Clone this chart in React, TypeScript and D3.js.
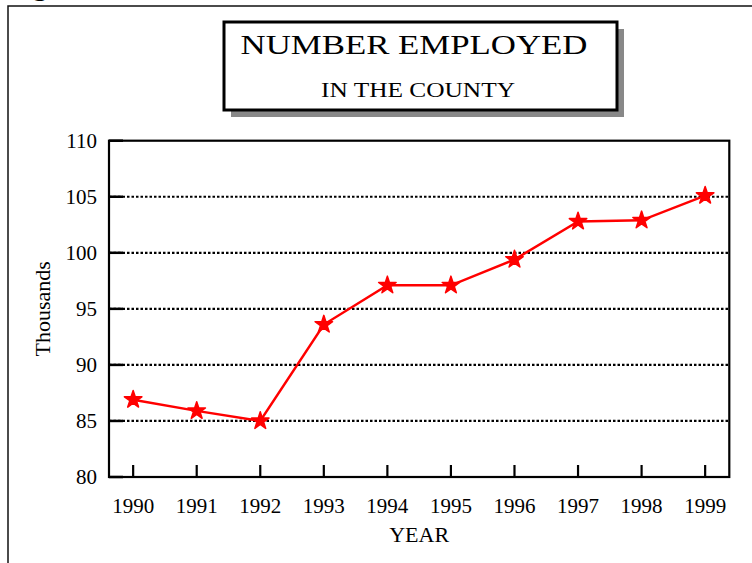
import React, { useEffect, useRef } from 'react';
import * as d3 from 'd3';

const years = ['1990', '1991', '1992', '1993', '1994', '1995', '1996', '1997', '1998', '1999'];
const employed = [86.9, 85.9, 85.0, 93.6, 97.1, 97.1, 99.4, 102.8, 102.9, 105.1];
const yTicks = [80, 85, 90, 95, 100, 105, 110];
const gridValues = [85, 90, 95, 100, 105];

const App = () => {
  const chartRef = useRef<HTMLDivElement>(null);

  useEffect(() => {
    const width = 752;
    const height = 563;
    const left = 109, right = 729.3, top = 140.7, bottom = 477;
    const font = '"Liberation Serif", "Times New Roman", serif';

    d3.select(chartRef.current).selectAll('svg').remove();

    const svg = d3.select(chartRef.current)
      .append('svg')
      .attr('width', width)
      .attr('height', height)
      .style('position', 'absolute')
      .style('left', '0px')
      .style('top', '0px')
      .style('font-family', font)
      .style('background', 'white');

    const x = d3.scalePoint<string>().domain(years).range([left, right]).padding(0.38);
    const y = d3.scaleLinear().domain([80, 110]).range([bottom, top]);

    // outer frame, runs off the page at right and bottom
    svg.append('rect')
      .attr('x', 8).attr('y', 6)
      .attr('width', 800).attr('height', 700)
      .attr('fill', 'none')
      .attr('stroke', '#111')
      .attr('stroke-width', 1.5);

    // clipped letter from the text above the figure
    svg.append('text')
      .attr('x', 33).attr('y', -5)
      .style('font-size', '28px')
      .style('font-weight', 'bold')
      .text('g');

    // title box with shadow
    svg.append('rect')
      .attr('x', 231).attr('y', 29)
      .attr('width', 393).attr('height', 88)
      .attr('fill', '#888');
    svg.append('rect')
      .attr('x', 224).attr('y', 22)
      .attr('width', 393).attr('height', 88)
      .attr('fill', 'white')
      .attr('stroke', 'black')
      .attr('stroke-width', 3);
    svg.append('text')
      .attr('x', 414).attr('y', 54)
      .attr('text-anchor', 'middle')
      .attr('textLength', 347)
      .attr('lengthAdjust', 'spacingAndGlyphs')
      .style('font-size', '27px')
      .text('NUMBER EMPLOYED');
    svg.append('text')
      .attr('x', 418).attr('y', 96.5)
      .attr('text-anchor', 'middle')
      .attr('textLength', 194)
      .attr('lengthAdjust', 'spacingAndGlyphs')
      .style('font-size', '20px')
      .text('IN THE COUNTY');

    // dotted grid
    svg.append('g')
      .selectAll('line')
      .data(gridValues)
      .enter()
      .append('line')
      .attr('x1', left).attr('x2', right)
      .attr('y1', d => y(d)).attr('y2', d => y(d))
      .attr('stroke', 'black')
      .attr('stroke-width', 2.2)
      .attr('stroke-dasharray', '2.5,2');

    // plot frame
    svg.append('rect')
      .attr('x', left).attr('y', top)
      .attr('width', right - left).attr('height', bottom - top)
      .attr('fill', 'none')
      .attr('stroke', 'black')
      .attr('stroke-width', 2.2);

    // y ticks pointing inward
    svg.append('g')
      .selectAll('line')
      .data(yTicks)
      .enter()
      .append('line')
      .attr('x1', left).attr('x2', left + 14)
      .attr('y1', d => y(d)).attr('y2', d => y(d))
      .attr('stroke', 'black')
      .attr('stroke-width', 2.5);

    svg.append('g')
      .selectAll('text')
      .data(yTicks)
      .enter()
      .append('text')
      .attr('x', 97)
      .attr('y', d => y(d) + 7)
      .attr('text-anchor', 'end')
      .style('font-size', '21px')
      .text(d => d);

    // x ticks pointing up
    svg.append('g')
      .selectAll('line')
      .data(years)
      .enter()
      .append('line')
      .attr('x1', d => x(d)!).attr('x2', d => x(d)!)
      .attr('y1', bottom).attr('y2', bottom - 12)
      .attr('stroke', 'black')
      .attr('stroke-width', 2.2);

    svg.append('g')
      .selectAll('text')
      .data(years)
      .enter()
      .append('text')
      .attr('x', d => x(d)!)
      .attr('y', 512.5)
      .attr('text-anchor', 'middle')
      .style('font-size', '21px')
      .text(d => d);

    svg.append('text')
      .attr('x', (left + right) / 2)
      .attr('y', 541.5)
      .attr('text-anchor', 'middle')
      .style('font-size', '22px')
      .text('YEAR');

    svg.append('text')
      .attr('transform', `translate(50,${(top + bottom) / 2}) rotate(-90)`)
      .attr('text-anchor', 'middle')
      .style('font-size', '22px')
      .text('Thousands');

    // series
    const line = d3.line<number>()
      .x((_, i) => x(years[i])!)
      .y(d => y(d));

    svg.append('path')
      .datum(employed)
      .attr('d', line)
      .attr('fill', 'none')
      .attr('stroke', '#ff0000')
      .attr('stroke-width', 2.5);

    const star = d3.symbol().type(d3.symbolStar).size(95);
    svg.append('g')
      .selectAll('path')
      .data(employed)
      .enter()
      .append('path')
      .attr('transform', (d, i) => `translate(${x(years[i])},${y(d)})`)
      .attr('d', star)
      .attr('fill', '#ff0000')
      .attr('stroke', '#ff0000')
      .attr('stroke-width', 1.5)
      .attr('stroke-linejoin', 'round');
  }, []);

  return (
    <div ref={chartRef}></div>
  );
};

export default App;
